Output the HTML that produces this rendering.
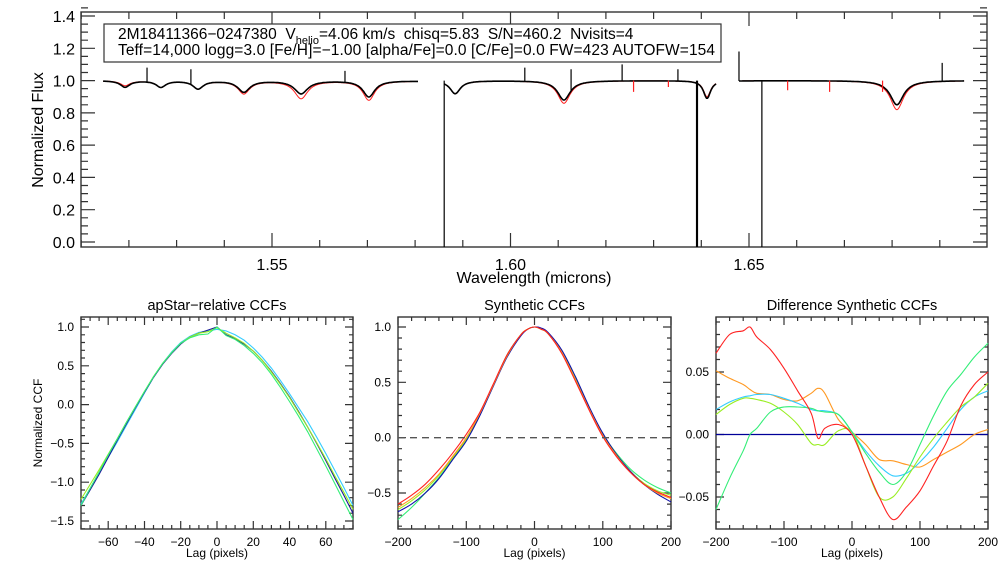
<!DOCTYPE html>
<html><head><meta charset="utf-8"><style>
html,body{margin:0;padding:0;background:#fff;}
svg{display:block;font-family:"Liberation Sans",sans-serif;}
text{white-space:pre;}
</style></head><body>
<svg id="root" width="1008" height="576" viewBox="0 0 1008 576" xmlns="http://www.w3.org/2000/svg" xml:space="preserve">
<rect width="1008" height="576" fill="#fff"/>
<g id="top"></g>
<g id="p1"></g>
<g id="p2"></g>
<g id="p3"></g>
</svg>
<script>
// ---------- Top spectrum data ----------
const segStart = [1.5146, 1.5861, 1.6479];
const segEnd   = [1.5806, 1.6431, 1.6951];
const lineCenters = [1.5192,1.5267,1.5345,1.5441,1.5561,1.5703,1.5884,1.6112,1.6412,1.6810];
const obsDepth    = [0.04,0.04,0.05,0.07,0.08,0.10,0.08,0.12,0.11,0.15];
const modelDepth  = [0.03,0.04,0.05,0.08,0.11,0.12,0.08,0.14,0.10,0.18];
const lineWidth   = [0.0012,0.0012,0.0013,0.0015,0.0017,0.0015,0.0013,0.0016,0.0009,0.0017];
const spikeWave = [1.5238,1.5330,1.5653,1.6030,1.6127,1.6234,1.6351,1.6479,1.6905];
const spikeFlux = [1.08,1.07,1.06,1.08,1.07,1.10,1.07,1.18,1.11];
const dropWave = [1.5861,1.6390,1.6391,1.6392,1.6527];
const redSpikeWave = [1.6258,1.6331,1.6581,1.6669,1.6780];
const redSpikeFlux = [0.93,0.96,0.94,0.93,0.93];
const topYTicks = [0.0,0.2,0.4,0.6,0.8,1.0,1.2,1.4];
const topXTicks = [1.55,1.60,1.65];

// ---------- CCF panel data ----------
const lag1 = [-75,-70,-65,-60,-55,-50,-45,-40,-35,-30,-25,-20,-15,-10,-5,0,5,10,15,20,25,30,35,40,45,50,55,60,65,70,75];
const ccf1Blue  = [-1.30,-1.10,-0.90,-0.68,-0.46,-0.25,-0.04,0.16,0.35,0.52,0.66,0.78,0.87,0.92,0.96,1.00,0.90,0.85,0.78,0.69,0.57,0.43,0.27,0.10,-0.09,-0.29,-0.50,-0.72,-0.95,-1.17,-1.40];
const ccf1Cyan  = [-1.28,-1.08,-0.88,-0.68,-0.48,-0.27,-0.06,0.15,0.35,0.53,0.68,0.80,0.88,0.93,0.95,0.97,0.95,0.90,0.83,0.73,0.61,0.47,0.31,0.14,-0.04,-0.22,-0.42,-0.63,-0.85,-1.07,-1.30];
const ccf1Green = [-1.30,-1.08,-0.87,-0.65,-0.44,-0.23,-0.03,0.17,0.36,0.53,0.67,0.79,0.86,0.90,0.91,1.00,0.89,0.84,0.76,0.66,0.54,0.39,0.22,0.04,-0.15,-0.35,-0.57,-0.79,-1.02,-1.25,-1.48];
const ccf1Lime  = [-1.22,-1.03,-0.84,-0.64,-0.44,-0.23,-0.03,0.17,0.36,0.53,0.67,0.79,0.87,0.92,0.94,0.99,0.92,0.86,0.79,0.69,0.57,0.42,0.26,0.09,-0.10,-0.29,-0.49,-0.70,-0.92,-1.13,-1.35];
const p1YTicks = [1.0,0.5,0.0,-0.5,-1.0,-1.5];
const p1XTicks = [-60,-40,-20,0,20,40,60];

const lag2 = [-200,-180,-160,-140,-120,-100,-80,-60,-40,-20,-10,0,10,20,40,60,80,100,120,140,160,180,200];
const ccf2Blue   = [-0.67,-0.60,-0.50,-0.37,-0.20,-0.03,0.20,0.47,0.73,0.92,0.98,1.00,0.99,0.95,0.79,0.55,0.28,0.04,-0.15,-0.30,-0.42,-0.51,-0.58];
const ccf2Red    = [-0.60,-0.52,-0.42,-0.29,-0.14,0.03,0.23,0.49,0.75,0.93,0.98,1.00,0.98,0.94,0.76,0.51,0.25,0.01,-0.17,-0.31,-0.42,-0.49,-0.54];
const ccf2Orange = [-0.63,-0.55,-0.45,-0.33,-0.17,0.00,0.22,0.48,0.74,0.93,0.98,1.00,0.98,0.94,0.77,0.52,0.26,0.02,-0.16,-0.31,-0.42,-0.50,-0.55];
const ccf2Lime   = [-0.65,-0.57,-0.47,-0.34,-0.18,-0.01,0.21,0.48,0.74,0.93,0.98,1.00,0.98,0.94,0.77,0.53,0.27,0.03,-0.15,-0.30,-0.41,-0.48,-0.52];
const ccf2Spring = [-0.74,-0.63,-0.50,-0.36,-0.19,-0.02,0.21,0.48,0.75,0.93,0.98,1.00,0.98,0.94,0.77,0.53,0.27,0.03,-0.14,-0.28,-0.38,-0.45,-0.50];
const p2YTicks = [1.0,0.5,0.0,-0.5];
const p2XTicks = [-200,-100,0,100,200];

const lag3 = [-200,-180,-160,-150,-140,-120,-100,-80,-60,-50,-40,-20,0,20,40,60,80,100,120,140,160,180,200];
const diffRed    = [0.065,0.080,0.083,0.086,0.078,0.068,0.053,0.035,0.017,-0.003,0.005,0.008,0.000,-0.025,-0.050,-0.068,-0.058,-0.045,-0.025,-0.005,0.023,0.040,0.050];
const diffOrange = [0.051,0.045,0.040,0.036,0.033,0.032,0.028,0.027,0.033,0.037,0.033,0.012,0.002,-0.008,-0.020,-0.021,-0.024,-0.026,-0.020,-0.014,-0.008,0.000,0.004];
const diffCyan   = [0.020,0.026,0.030,0.031,0.032,0.032,0.029,0.025,0.020,0.019,0.019,0.016,0.002,-0.013,-0.025,-0.033,-0.031,-0.022,-0.010,0.005,0.020,0.030,0.035];
const diffLime   = [0.016,0.024,0.029,0.029,0.028,0.025,0.018,0.008,-0.007,-0.008,-0.008,0.003,0.002,-0.025,-0.050,-0.050,-0.035,-0.018,-0.003,0.010,0.022,0.030,0.041];
const diffSpring = [-0.060,-0.035,-0.013,0.000,0.005,0.018,0.022,0.022,0.021,0.019,0.018,0.016,0.002,-0.015,-0.030,-0.040,-0.030,-0.008,0.015,0.035,0.048,0.062,0.073];
const p3YTicks = [0.05,0.00,-0.05];
const p3XTicks = [-200,-100,0,100,200];

const NS = "http://www.w3.org/2000/svg";
function mk(tag, parent, attrs){
  const el = document.createElementNS(NS, tag);
  for (const k in attrs) el.setAttribute(k, attrs[k]);
  parent.appendChild(el);
  return el;
}
function scale(d0,d1,r0,r1){ return v => r0 + (v-d0)/(d1-d0)*(r1-r0); }

function axesBox(g, x0,y0,x1,y1, xs, ys, xMaj, xMin, yMaj, yMin, majLen, minLen, xDom, yDom){
  const box = mk('rect', g, {x:x0,y:y0,width:x1-x0,height:y1-y0,fill:'none',stroke:'#333','stroke-width':1.4});
  
  
  let d = '';
  const nx0 = Math.ceil(xDom[0]/xMin - 1e-6), nx1 = Math.floor(xDom[1]/xMin + 1e-6);
  for (let n = nx0; n <= nx1; n++){
    const v = n*xMin;
    const isMaj = Math.abs(Math.round(v/xMaj)*xMaj - v) < 1e-6;
    const L = isMaj ? majLen : minLen; const px = xs(v).toFixed(1);
    d += `M${px},${y1}V${y1-L}M${px},${y0}V${y0+L}`;
  }
  const ny0 = Math.ceil(yDom[0]/yMin - 1e-6), ny1 = Math.floor(yDom[1]/yMin + 1e-6);
  for (let n = ny0; n <= ny1; n++){
    const v = n*yMin;
    const isMaj = Math.abs(Math.round(v/yMaj)*yMaj - v) < 1e-6;
    const L = isMaj ? majLen : minLen; const py = ys(v).toFixed(1);
    d += `M${x0},${py}H${x0+L}M${x1},${py}H${x1-L}`;
  }
  const t = mk('path', g, {d:d, stroke:'#333','stroke-width':1.2, fill:'none'});
  
  
}
function label(g, x, y, txt, fs, anchor, name, rot){
  const t = mk('text', g, {x:x,y:y,'font-size':fs,'text-anchor':anchor||'middle',fill:'#000'});
  if (rot) t.setAttribute('transform', `rotate(-90 ${x} ${y})`);
  t.textContent = txt;
  
  
  return t;
}
function smoothPath(px, py){
  let d = `M${px[0].toFixed(1)},${py[0].toFixed(1)}`;
  for (let i=0;i<px.length-1;i++){
    const x0=px[Math.max(i-1,0)], y0=py[Math.max(i-1,0)];
    const x1=px[i], y1=py[i], x2=px[i+1], y2=py[i+1];
    const x3=px[Math.min(i+2,px.length-1)], y3=py[Math.min(i+2,px.length-1)];
    const c1x=x1+(x2-x0)/6, c1y=y1+(y2-y0)/6, c2x=x2-(x3-x1)/6, c2y=y2-(y3-y1)/6;
    d += `C${c1x.toFixed(1)},${c1y.toFixed(1)} ${c2x.toFixed(1)},${c2y.toFixed(1)} ${x2.toFixed(1)},${y2.toFixed(1)}`;
  }
  return d;
}
function line(g, xsArr, ysArr, xs, ys, color, name, w, smooth){
  let p;
  if (smooth){
    p = mk('path', g, {d:smoothPath(xsArr.map(xs), ysArr.map(ys)), fill:'none', stroke:color, 'stroke-width':w||1});
  } else {
    const pts = xsArr.map((v,i)=>xs(v).toFixed(1)+','+ys(ysArr[i]).toFixed(1)).join(' ');
    p = mk('polyline', g, {points:pts, fill:'none', stroke:color, 'stroke-width':w||1});
  }
  
  
}
function fmtMinus(s){ return s.replace('-','\u2212'); }

// ---------- Top panel ----------
(function(){
  const g = document.getElementById('top');
  const X0=81,X1=987,Y0=12,Y1=247;
  const xs = scale(1.55,1.65,272,749);
  const ys = scale(0,1.4,242,16);
  axesBox(g,X0,Y0,X1,Y1,xs,ys,0.05,0.01,0.2,0.05,14,7,[1.51,1.699],[0,1.45]);
  topYTicks.forEach(v=>label(g, X0-6, ys(v)+6, v.toFixed(1), 16, 'end', 'y-tick-label'));
  topXTicks.forEach(v=>label(g, xs(v), Y1+23, v.toFixed(2), 16, 'middle', 'x-tick-label'));
  label(g, 534, 283, 'Wavelength (microns)', 16, 'middle', 'x-axis-title');
  label(g, 43, 130, 'Normalized Flux', 16, 'middle', 'y-axis-title', true);
  function flux(w, depths){
    let f = 1.0;
    lineCenters.forEach((c,i)=>{ const u=(w-c)/lineWidth[i]; f -= depths[i]/(1+u*u); });
    return f;
  }
  segStart.forEach((s,k)=>{
    const e = segEnd[k];
    let dm='', dob='';
    for (let w=s; w<=e+1e-9; w+=0.0002){
      const px=xs(w).toFixed(1);
      dm += (dm?'L':'M')+px+','+ys(flux(w,modelDepth)).toFixed(1);
      dob += (dob?'L':'M')+px+','+ys(flux(w,obsDepth)).toFixed(1);
    }
    const pm = mk('path', g, {d:dm, fill:'none', stroke:'#ff2020','stroke-width':1});
    
    
    const po = mk('path', g, {d:dob, fill:'none', stroke:'#000','stroke-width':1.6});
    
    
  });
  let ds='';
  spikeWave.forEach((w,i)=>{ ds += `M${xs(w)},${ys(flux(w,obsDepth))}V${ys(spikeFlux[i])}`; });
  dropWave.forEach(w=>{ ds += `M${xs(w)},${ys(1.0)}V${ys(0)+5}`; });
  const sp = mk('path', g, {d:ds, stroke:'#000', 'stroke-width':1.2, fill:'none'});
  
  
  let dr='';
  redSpikeWave.forEach((w,i)=>{ dr += `M${xs(w)},${ys(1.0)}V${ys(redSpikeFlux[i])}`; });
  const rs = mk('path', g, {d:dr, stroke:'#ff2020', 'stroke-width':1.2, fill:'none'});
  
  
  // info box
  const b = mk('rect', g, {x:104,y:24,width:617,height:38,fill:'#fff',stroke:'#333','stroke-width':1.2});
  
  
  const t1 = mk('text', g, {x:118,y:39,'font-size':15.5,fill:'#000'});
  
  
  t1.innerHTML = '2M18411366\u22120247380  V<tspan dy="5" font-size="11">helio</tspan><tspan dy="-5">=4.06 km/s  chisq=5.83  S/N=460.2  Nvisits=4</tspan>';
  const t2 = label(g, 118, 55, 'Teff=14,000 logg=3.0 [Fe/H]=\u22121.00 [alpha/Fe]=0.0 [C/Fe]=0.0 FW=423 AUTOFW=154', 15.5, 'start', 'info-line-2');
  t2.setAttribute('textLength', 597);
})();

// ---------- Bottom panels ----------
function panel(id, X0, X1, xDom, yDom, xMaj, xMin, yMaj, yMin, yTicks, xTicks, yDigits, title, seriesList, smooth){
  const g = document.getElementById(id);
  const Y0=317, Y1=529;
  const xs = scale(xDom[0], xDom[1], X0, X1);
  const ys = scale(yDom[0], yDom[1], Y1, Y0);
  axesBox(g,X0,Y0,X1,Y1,xs,ys,xMaj,xMin,yMaj,yMin,8,4,xDom,yDom);
  yTicks.forEach(v=>label(g, X0-7, ys(v)+4, fmtMinus(v.toFixed(yDigits)), 12, 'end', 'y-tick-label'));
  xTicks.forEach(v=>label(g, xs(v), Y1+17, fmtMinus(String(v)), 12, 'middle', 'x-tick-label'));
  label(g, (X0+X1)/2, 557, 'Lag (pixels)', 12, 'middle', 'x-axis-title');
  label(g, (X0+X1)/2, 310, title, 14.5, 'middle', 'panel-title');
  seriesList.forEach(s=>line(g, s[0], s[1], xs, ys, s[2], s[3], 1.1, smooth));
  return {g,xs,ys,X0,X1};
}
(function(){
  panel('p1', 81, 353, [-75,75], [-1.603,1.129], 20, 5, 0.5, 0.1, p1YTicks, p1XTicks, 1, 'apStar\u2212relative CCFs', [
    [lag1, ccf1Cyan, '#33ccff', 'series-cyan'],
    [lag1, ccf1Blue, '#1a1a99', 'series-navy'],
    [lag1, ccf1Lime, '#99ee22', 'series-lime'],
    [lag1, ccf1Green, '#33ee77', 'series-green']
  ], false);
  label(document.getElementById('p1'), 42, 423, 'Normalized CCF', 12, 'middle', 'y-axis-title', true);
  const P2 = panel('p2', 398, 671, [-200,200], [-0.825,1.09], 100, 20, 0.5, 0.1, p2YTicks, p2XTicks, 1, 'Synthetic CCFs', [
    [lag2, ccf2Spring, '#33ee77', 'series-green'],
    [lag2, ccf2Lime, '#99ee22', 'series-lime'],
    [lag2, ccf2Blue, '#1111aa', 'series-navy'],
    [lag2, ccf2Orange, '#ff9922', 'series-orange'],
    [lag2, ccf2Red, '#ff2222', 'series-red']
  ], true);
  const zl = mk('line', P2.g, {x1:398,x2:671,y1:P2.ys(0),y2:P2.ys(0),stroke:'#555','stroke-width':1.3,'stroke-dasharray':'7,5'});
  
  
  const P3 = panel('p3', 716, 988, [-200,200], [-0.0756,0.094], 100, 20, 0.05, 0.01, p3YTicks, p3XTicks, 2, 'Difference Synthetic CCFs', [], true);
  const z3 = mk('line', P3.g, {x1:716,x2:988,y1:P3.ys(0),y2:P3.ys(0),stroke:'#000099','stroke-width':1.2});
  
  
  [[diffOrange,'#ff9922','series-orange'],[diffCyan,'#33ccff','series-cyan'],[diffLime,'#99ee22','series-lime'],[diffSpring,'#33ee77','series-green'],[diffRed,'#ff2222','series-red']]
    .forEach(s=>line(P3.g, lag3, s[0], P3.xs, P3.ys, s[1], s[2], 1.1, true));
})();
</script>
</body></html>
